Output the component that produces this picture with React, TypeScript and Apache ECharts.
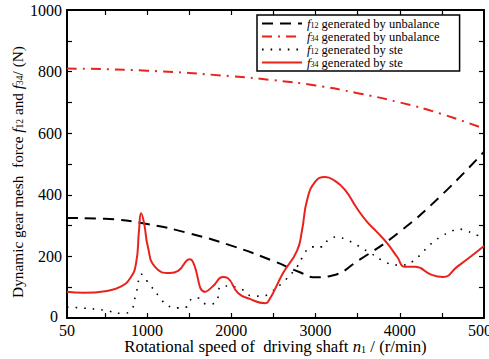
import React, { useEffect, useRef } from "react";
import * as echarts from "echarts";

const f12UnbN = [50, 500, 1000, 1500, 2000, 2500, 2800, 3000, 3200, 3500, 4000, 4500, 5000];
const f12UnbV = [325, 322, 305, 275, 235, 185, 150, 132, 138, 185, 280, 400, 540];

const f34UnbN = [50, 1000, 2000, 2500, 3000, 3500, 4000, 4500, 5000];
const f34UnbV = [810, 803, 785, 772, 755, 730, 700, 662, 615];

const f12SteN = [50, 200, 500, 700, 800, 870, 935, 1000, 1150, 1250, 1370, 1470, 1545, 1600, 1710, 1810, 1890, 2070, 2260, 2365, 2460, 2640, 2780, 2840, 2960, 3080, 3150, 3260, 3350, 3450, 3550, 3650, 3850, 3950, 4040, 4160, 4240, 4320, 4400, 4500, 4600, 4690, 4800, 4920, 5000];
const f12SteV = [35, 33, 25, 15, 22, 80, 142, 120, 68, 39, 33, 36, 65, 65, 45, 49, 104, 100, 71, 71, 82, 123, 166, 195, 231, 231, 253, 263, 256, 243, 227, 211, 179, 172, 172, 185, 204, 227, 247, 266, 279, 289, 282, 269, 262];

const f34SteN = [50, 240, 525, 680, 800, 870, 905, 930, 965, 1010, 1095, 1270, 1370, 1510, 1545, 1690, 1785, 1900, 1960, 2080, 2220, 2400, 2435, 2615, 2780, 2840, 2900, 2995, 3115, 3230, 3350, 3490, 3610, 3730, 3850, 3970, 4060, 4180, 4380, 4515, 4680, 4835, 5000];
const f34SteV = [85, 82, 88, 101, 129, 178, 285, 340, 308, 231, 166, 146, 153, 191, 182, 85, 104, 133, 129, 81, 62, 48, 52, 146, 218, 285, 383, 442, 458, 445, 416, 357, 313, 279, 243, 198, 166, 166, 140, 133, 166, 198, 234];

const xLabelValues = [50, 1000, 2000, 3000, 4000, 5000];
const xTickValues = [500, 1000, 1500, 2000, 2500, 3000, 3500, 4000, 4500];
const yTickValues = [100, 200, 300, 400, 500, 600, 700, 800, 900];

const seriesNames = ["f12u", "f34u", "f12s", "f34s"];
const legendTexts: Record<string, string> = {
  f12u: "{i|f}{s|12}{t| generated by unbalance}",
  f34u: "{i|f}{s|34}{t| generated by unbalance}",
  f12s: "{i|f}{s|12}{t| generated by ste}",
  f34s: "{i|f}{s|34}{t| generated by ste}",
};

const FONT = "Liberation Serif";
const RED = "#e8231b";

const zip = (a: number[], b: number[]) => a.map((x, i) => [x, b[i]]);

export default function App() {
  const ref = useRef<HTMLDivElement>(null);
  useEffect(() => {
    if (!ref.current) return;
    const chart = echarts.init(ref.current, undefined, { renderer: "svg" });
    const axisLine = { show: true, onZero: false, lineStyle: { color: "#000", width: 2 } };
    const richX = {
      t: { fontFamily: FONT, fontSize: 16.8, color: "#000" },
      i: { fontFamily: FONT, fontStyle: "italic", fontSize: 16.8, color: "#000" },
      s: { fontFamily: FONT, fontSize: 10, color: "#000", padding: [5, 0, 0, 0] },
    };
    const richY = {
      t: { fontFamily: FONT, fontSize: 15.3, color: "#000" },
      i: { fontFamily: FONT, fontStyle: "italic", fontSize: 15.3, color: "#000" },
      s: { fontFamily: FONT, fontSize: 9.5, color: "#000", padding: [5, 0, 0, 0] },
    };
    const richSmall = {
      t: { fontFamily: FONT, fontSize: 12.5, color: "#000" },
      i: { fontFamily: FONT, fontStyle: "italic", fontSize: 12.5, color: "#000" },
      s: { fontFamily: FONT, fontSize: 8, color: "#000", padding: [4, 0, 0, 0] },
    };
    chart.setOption({
      animation: false,
      textStyle: { fontFamily: FONT, color: "#000" },
      grid: { left: 67, right: 5, top: 10, bottom: 41, containLabel: false, outerBoundsMode: "none" },
      legend: {
        data: seriesNames,
        orient: "vertical",
        left: 257,
        top: 15,
        icon: "inherit",
        itemWidth: 40,
        itemHeight: 13,
        itemGap: 0,
        padding: [2, 20, 2, 4],
        borderColor: "#000",
        borderWidth: 1.5,
        backgroundColor: "#fff",
        itemStyle: { opacity: 0 },
        formatter: (name: string) => legendTexts[name],
        textStyle: { fontFamily: FONT, fontSize: 12.5, color: "#000", rich: richSmall },
      },
      xAxis: [
        {
          type: "value",
          min: 50,
          max: 5000,
          position: "bottom",
          name: "{t|Rotational speed of  driving shaft }{i|n}{s|1}{t| / (r/min)}",
          nameLocation: "middle",
          nameGap: 20,
          nameMoveOverlap: false,
          nameTextStyle: { fontFamily: FONT, fontSize: 16.8, color: "#000", rich: richX },
          axisLine,
          axisTick: { show: true, inside: true, length: 5, customValues: xTickValues, lineStyle: { color: "#000", width: 1.2 } },
          axisLabel: { customValues: xLabelValues, fontFamily: FONT, fontSize: 16, color: "#000", margin: 4, formatter: (v: number) => String(v) },
          splitLine: { show: false },
        },
        {
          type: "value",
          min: 50,
          max: 5000,
          position: "top",
          axisLine,
          axisTick: { show: true, inside: true, length: 5, customValues: xTickValues, lineStyle: { color: "#000", width: 1.2 } },
          axisLabel: { show: false },
          splitLine: { show: false },
        },
      ],
      yAxis: [
        {
          type: "value",
          min: 0,
          max: 1000,
          interval: 200,
          position: "left",
          name: "{t|Dynamic gear mesh  force }{i|f}{s|12}{t| and }{i|f}{s|34}{t|/ (N)}",
          nameLocation: "middle",
          nameRotate: 90,
          nameGap: 42,
          nameMoveOverlap: false,
          nameTextStyle: { fontFamily: FONT, fontSize: 15.3, color: "#000", rich: richY, padding: [0, 16, 0, 0] },
          axisLine,
          axisTick: { show: true, inside: true, length: 5, customValues: yTickValues, lineStyle: { color: "#000", width: 1.2 } },
          axisLabel: {
            fontFamily: FONT,
            fontSize: 16,
            color: "#000",
            margin: 5,
            formatter: (v: number) => (v === 0 ? "{z|0}" : String(v)),
            rich: { z: { fontFamily: FONT, fontSize: 16, color: "#000", padding: [0, 4, 4, 0] } },
          },
          splitLine: { show: false },
        },
        {
          type: "value",
          min: 0,
          max: 1000,
          interval: 200,
          position: "right",
          axisLine,
          axisTick: { show: true, inside: true, length: 5, customValues: yTickValues, lineStyle: { color: "#000", width: 1.2 } },
          axisLabel: { show: false },
          splitLine: { show: false },
        },
      ],
      series: [
        {
          name: "f12u",
          type: "line",
          data: zip(f12UnbN, f12UnbV),
          smooth: true,
          showSymbol: false,
          symbol: "none",
          lineStyle: { color: "#000", width: 2, type: [11, 7] },
          itemStyle: { color: "#000" },
        },
        {
          name: "f34u",
          type: "line",
          data: zip(f34UnbN, f34UnbV),
          smooth: true,
          showSymbol: false,
          symbol: "none",
          lineStyle: { color: RED, width: 2, type: [10, 6, 2, 6] },
          itemStyle: { color: RED },
        },
        {
          name: "f12s",
          type: "line",
          data: zip(f12SteN, f12SteV),
          smooth: true,
          showSymbol: false,
          symbol: "none",
          lineStyle: { color: "#000", width: 1.6, type: [1.6, 7] },
          itemStyle: { color: "#000" },
        },
        {
          name: "f34s",
          type: "line",
          data: zip(f34SteN, f34SteV),
          smooth: true,
          showSymbol: false,
          symbol: "none",
          lineStyle: { color: RED, width: 2 },
          itemStyle: { color: RED },
        },
      ],
    });
    return () => chart.dispose();
  }, []);
  return <div ref={ref} style={{ width: 489, height: 359, position: "absolute", left: 0, top: 0 }} />;
}
